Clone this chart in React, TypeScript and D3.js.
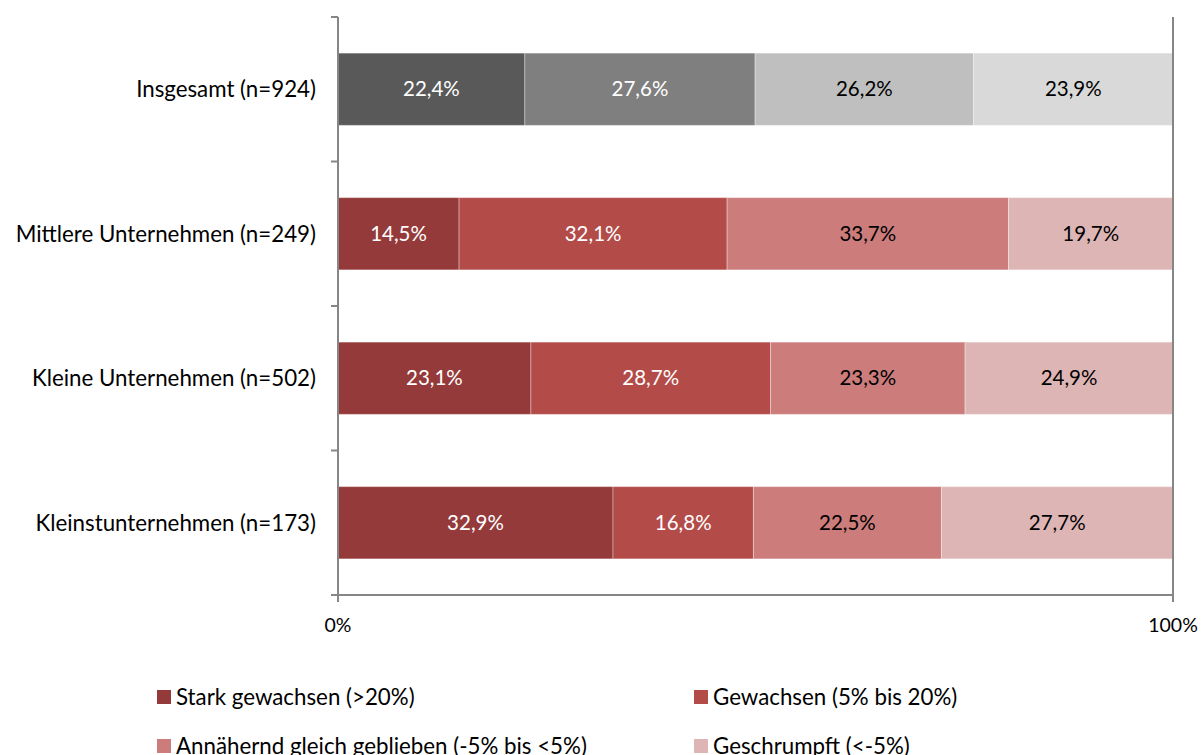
import React from 'react';
import * as d3 from 'd3';

const categories = [
  'Insgesamt (n=924)',
  'Mittlere Unternehmen (n=249)',
  'Kleine Unternehmen (n=502)',
  'Kleinstunternehmen (n=173)',
];
const seriesNames = [
  'Stark gewachsen (>20%)',
  'Gewachsen (5% bis 20%)',
  'Annähernd gleich geblieben (-5% bis <5%)',
  'Geschrumpft (<-5%)',
];
const starkGewachsen = [22.4, 14.5, 23.1, 32.9];
const gewachsen = [27.6, 32.1, 28.7, 16.8];
const gleich = [26.2, 33.7, 23.3, 22.5];
const geschrumpft = [23.9, 19.7, 24.9, 27.7];
const xTickLabels = ['0%', '100%'];

const redColors = ['#953a3a', '#b34b49', '#cb7c7b', '#deb5b5'];
const greyColors = ['#595959', '#7f7f7f', '#bfbfbf', '#d9d9d9'];
const labelColors = ['#ffffff', '#ffffff', '#000000', '#000000'];

const FONT = 'Lato, "Open Sans", sans-serif';
const W = 1203;
const H = 755;

export default function App() {
  const rows = categories.map((c, i) => ({
    cat: c,
    s0: starkGewachsen[i],
    s1: gewachsen[i],
    s2: gleich[i],
    s3: geschrumpft[i],
  }));
  const keys = ['s0', 's1', 's2', 's3'];
  const raw = [starkGewachsen, gewachsen, gleich, geschrumpft];

  // 100% stacked, like the spreadsheet does it
  const stacked = d3.stack<any>().keys(keys).offset(d3.stackOffsetExpand)(rows);

  const x = d3.scaleLinear().domain([0, 1]).range([338, 1173]);
  const y = d3.scaleBand<string>()
    .domain(categories)
    .range([17, 595])
    .paddingInner(0.5)
    .paddingOuter(0.25);

  const boundaries = d3.range(categories.length + 1).map(i => 17 + i * y.step());
  const axisColor = '#868686';
  const fmt = (v: number) => v.toFixed(1).replace('.', ',') + '%';

  return (
    <svg width={W} height={H} style={{ position: 'absolute', left: 0, top: 0, fontFamily: FONT }}>
      <rect width={W} height={H} fill="#fff" />
      {/* bars */}
      {stacked.map((layer, si) => (
        <g key={si}>
          {layer.map((d, ci) => {
            const x0 = x(d[0]);
            const x1 = x(d[1]);
            const yy = y(categories[ci])!;
            const fill = ci === 0 ? greyColors[si] : redColors[si];
            return (
              <g key={ci}>
                <rect x={x0} y={yy} width={x1 - x0} height={y.bandwidth()} fill={fill}
                  stroke="rgba(255,255,255,0.35)" strokeWidth={1} />
                <text x={(x0 + x1) / 2} y={yy + y.bandwidth() / 2} dy="0.35em" textAnchor="middle"
                  fontSize={20.5} fill={labelColors[si]}>{fmt(raw[si][ci])}</text>
              </g>
            );
          })}
        </g>
      ))}
      {/* axes */}
      <line x1={338} x2={338} y1={17} y2={602} stroke={axisColor} strokeWidth={2} />
      <line x1={1173} x2={1173} y1={17} y2={602} stroke={axisColor} strokeWidth={2} />
      <line x1={331} x2={1173} y1={595} y2={595} stroke={axisColor} strokeWidth={2} />
      {boundaries.map((b, i) => (
        <line key={i} x1={331} x2={338} y1={b} y2={b} stroke={axisColor} strokeWidth={2} />
      ))}
      {xTickLabels.map((t, i) => (
        <text key={t} x={x(i)} y={625} dy="0.35em" textAnchor="middle" fontSize={19.5} fill="#000">{t}</text>
      ))}
      {categories.map(c => (
        <text key={c} x={316} y={y(c)! + y.bandwidth() / 2} dy="0.35em" textAnchor="end" fontSize={22.3} fill="#000">{c}</text>
      ))}
      {/* legend */}
      {seriesNames.map((s, i) => {
        const lx = i % 2 === 0 ? 157 : 694;
        const ly = i < 2 ? 697 : 746;
        return (
          <g key={s}>
            <rect x={lx} y={ly - 7} width={14} height={14} fill={redColors[i]} />
            <text x={lx + 19} y={ly} dy="0.35em" fontSize={22.3} fill="#000">{s}</text>
          </g>
        );
      })}
    </svg>
  );
}
